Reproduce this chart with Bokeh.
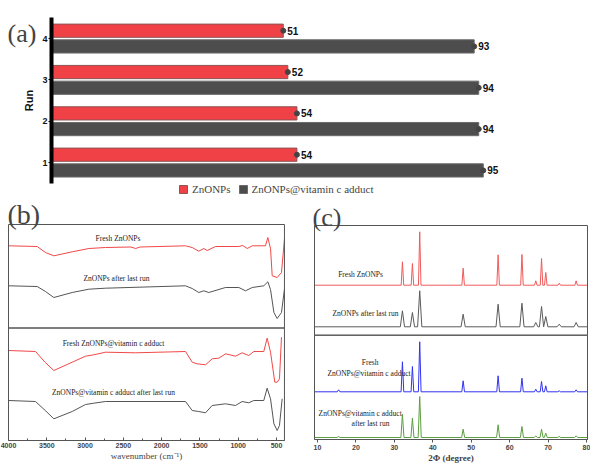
from bokeh.plotting import figure
from bokeh.models import (Range1d, Label, Legend, LegendItem, FixedTicker,
                          BoxAnnotation, ColumnDataSource)
from bokeh.layouts import column, row
from bokeh.transform import dodge
from bokeh.embed import file_html
from bokeh.resources import INLINE
from bokeh.core.properties import value

# ---------------- data: panel (a) ----------------
runs = [1, 2, 3, 4]
zno_yield = [54, 54, 52, 51]
znovc_yield = [95, 94, 94, 93]
legend_labels = ["ZnONPs", "ZnONPs@vitamin c adduct"]

# ---------------- data: panel (b) FTIR (arbitrary offset units) ----
ftir_fresh_zno_wn = [4000, 3625, 3517, 3408, 3168, 2951, 2733, 2400, 2341, 2280, 1688, 1601,
                     1515, 1449, 1405, 1297, 992, 940, 882, 817, 644, 613, 578, 556, 491, 435, 396]
ftir_fresh_zno_t = [194.7, 194, 188, 184.7, 188.7, 192, 193, 193.5, 192, 193.5, 194.7, 193,
                    189.3, 192, 190, 194, 194, 195, 192, 194.7, 194.7, 203, 192, 164.7, 163, 168, 201.3]

ftir_used_zno_wn = [4000, 3625, 3517, 3408, 3168, 2951, 2733, 1688, 1601, 1515, 1449, 1384,
                    1167, 992, 905, 817, 666, 613, 578, 534, 491, 435, 396]
ftir_used_zno_t = [154.7, 154, 149, 143, 148, 151.3, 152.3, 154.7, 152, 148, 149.7, 148,
                   153, 153, 149.7, 153, 154.7, 158.7, 151, 128, 122, 128, 151.3]

ftir_fresh_vc_wn = [4000, 3647, 3520, 3408, 3168, 2994, 2886, 2733, 2341, 1688, 1601, 1536,
                    1427, 1340, 1253, 1166, 1036, 949, 862, 797, 666, 622, 578, 522, 491, 461, 435]
ftir_fresh_vc_t = [90, 89, 78, 70, 78.3, 84.3, 85.7, 88.3, 87.7, 89, 78.3, 76.7,
                   75.7, 81.7, 82.3, 86.7, 84.3, 87.7, 85, 89, 89, 102.3, 88.3, 58.3, 58.3, 61.7, 103.3]

ftir_used_vc_wn = [4000, 3647, 3520, 3408, 3168, 2994, 2886, 2733, 1688, 1601, 1515, 1427,
                   1340, 1166, 1036, 949, 862, 797, 666, 622, 578, 534, 491, 461, 426]
ftir_used_vc_t = [40, 39, 30, 21.7, 29, 36, 37.3, 39, 39, 30, 29, 27.7,
                  35, 36.7, 35, 39, 37.7, 40, 40, 52.3, 41.7, 16.7, 10, 15, 41.7]

ftir_ticks = [4000, 3500, 3000, 2500, 2000, 1500, 1000, 500]
ftir_minor = [3750, 3250, 2750, 2250, 1750, 1250, 750]

# ---------------- data: panel (c) XRD (peak positions / apex heights) ----
xrd_pos = [32.1, 34.7, 36.6, 47.9, 57.0, 63.2, 66.8, 68.3, 69.4, 72.9, 77.3]
xrd_pos_vc = [15.5, 32.1, 34.7, 36.6, 47.9, 57.0, 63.2, 66.8, 68.3, 69.4, 72.9, 77.3]
xrd_fresh_zno_base = 155.3
xrd_fresh_zno_h = [178.7, 177, 208.7, 172.3, 185.7, 186, 159.7, 182, 168, 157.3, 159.7]
xrd_used_zno_base = 113.7
xrd_used_zno_h = [129.7, 128, 149.7, 126.3, 136.3, 137.3, 118, 134, 124, 116.3, 118]
xrd_fresh_vc_base = 48.7
xrd_fresh_vc_h = [50.7, 78.7, 74, 98.7, 59.7, 64.7, 62.3, 51.3, 59, 54.7, 49.7, 50.7]
xrd_used_vc_base = 3
xrd_used_vc_h = [4, 26.3, 22.3, 44, 11.3, 15.7, 14, 4.7, 11.3, 7.3, 4, 4.7]
xrd_ticks = [10, 20, 30, 40, 50, 60, 70, 80]

RED = "#EF4146"
DARK = "#4D4D4D"
FRAME = "#555555"
SERIF = "Liberation Serif"
SANS = "Liberation Sans"

# =============== panel (a) ===============
src = ColumnDataSource(dict(run=runs, zno=zno_yield, vc=znovc_yield,
                            zno_lbl=[str(v) for v in zno_yield],
                            vc_lbl=[str(v) for v in znovc_yield]))

pa = figure(width=590, height=196, min_border=0,
            x_range=Range1d(-11.22, 118.59), y_range=Range1d(0.179, 4.921),
            x_axis_location=None, output_backend="svg", toolbar_location=None)
pa.outline_line_color = None
pa.grid.visible = False

yr = dodge('run', 0.19)
yb = dodge('run', -0.19)
r_red = pa.hbar(y=yr, left=0, right='zno', height=0.32, source=src,
                fill_color=RED, line_color="#8c5555", line_width=1)
r_blk = pa.hbar(y=yb, left=0, right='vc', height=0.32, source=src,
                fill_color=DARK, line_color="#6a6a6a", line_width=1)
pa.scatter(x='zno', y=yr, size=5, color="#444444", source=src)
pa.scatter(x='vc', y=yb, size=5, color="#444444", source=src)
for xcol, col, yy in (('zno', 'zno_lbl', yr), ('vc', 'vc_lbl', yb)):
    pa.text(x=xcol, y=yy, text=col, source=src,
            x_offset=4, text_baseline='middle', text_align='left',
            text_font=value(SANS), text_font_style='bold', text_font_size='10px',
            text_color="#111111")

ya = pa.yaxis[0]
ya.fixed_location = 0
ya.bounds = (0.5, 4.5)
ya.ticker = FixedTicker(ticks=runs)
ya.axis_line_width = 4
ya.axis_line_color = "black"
ya.major_tick_out = 3
ya.major_tick_in = 0
ya.minor_tick_line_color = None
ya.major_label_standoff = 1
ya.major_label_text_font = SANS
ya.major_label_text_font_style = 'bold'
ya.major_label_text_font_size = '9px'
ya.major_label_text_color = "#111111"
ya.axis_label = "Run"
ya.axis_label_text_font = SANS
ya.axis_label_text_font_style = 'bold'
ya.axis_label_text_font_size = '11px'
ya.axis_label_text_color = "#111111"
ya.axis_label_standoff = 4

leg = Legend(items=[LegendItem(label=legend_labels[0], renderers=[r_red]),
                    LegendItem(label=legend_labels[1], renderers=[r_blk])],
             orientation="horizontal", location=(178, 1),
             glyph_width=10, glyph_height=10, label_height=10, label_width=10,
             label_standoff=4, spacing=7, padding=0, margin=0,
             border_line_color=None, background_fill_alpha=0,
             label_text_font=SERIF, label_text_font_size='11px')
pa.add_layout(leg, 'center')
pa.add_layout(Label(x=7, y=163, x_units='screen', y_units='screen', text="(a)",
                    text_font=SERIF, text_font_size='26px', text_baseline='alphabetic'))

# =============== panel (b) ===============
pb = figure(width=300, height=269, min_border=0,
            x_range=Range1d(4104.5, 186.5), y_range=Range1d(-25, 244),
            y_axis_location=None, output_backend="svg", toolbar_location=None)
pb.grid.visible = False
pb.outline_line_color = None
pb.line(ftir_fresh_zno_wn, ftir_fresh_zno_t, color="#F04848", line_width=1)
pb.line(ftir_used_zno_wn, ftir_used_zno_t, color="#555555", line_width=1)
pb.line(ftir_fresh_vc_wn, ftir_fresh_vc_t, color="#F04848", line_width=1)
pb.line(ftir_used_vc_wn, ftir_used_vc_t, color="#555555", line_width=1)
pb.add_layout(BoxAnnotation(left=4000, right=396, bottom=112.5, top=216, fill_alpha=0,
                            line_color=FRAME, line_width=1, line_alpha=1))
pb.add_layout(BoxAnnotation(left=4000, right=396, bottom=0, top=112.5, fill_alpha=0,
                            line_color=FRAME, line_width=1, line_alpha=1))

xb = pb.xaxis[0]
xb.fixed_location = 0
xb.bounds = (396, 4000)
xb.ticker = FixedTicker(ticks=ftir_ticks, minor_ticks=ftir_minor)
xb.major_tick_in = 3
xb.major_tick_out = 0
xb.minor_tick_in = 2
xb.minor_tick_out = 0
xb.axis_line_color = FRAME
xb.major_tick_line_color = FRAME
xb.minor_tick_line_color = FRAME
xb.major_label_standoff = 2
xb.major_label_text_font = SANS
xb.major_label_text_font_style = 'bold'
xb.major_label_text_font_size = '7px'
xb.major_label_text_color = "#444444"
xb.axis_label = "wavenumber (cm\u207b\u00b9)"
xb.axis_label_text_font = SERIF
xb.axis_label_text_font_style = 'normal'
xb.axis_label_text_font_size = '9px'
xb.axis_label_standoff = 0

for txt, x, y in (("Fresh ZnONPs", 2570, 202), ("ZnONPs after last run", 2590, 162),
                  ("Fresh ZnONPs@vitamin c adduct", 2629, 97),
                  ("ZnONPs@vitamin c adduct after last run", 2629, 48)):
    pb.add_layout(Label(x=x, y=y, text=txt, text_align='center', text_baseline='middle',
                        text_font=SERIF, text_font_size='7.5px', text_color="#222222"))
pb.add_layout(Label(x=7, y=251, x_units='screen', y_units='screen', text="(b)",
                    text_font=SERIF, text_font_size='28px', text_baseline='alphabetic'))

# =============== panel (c) ===============
XMIN, XMAX = 9.22, 80.26
pc = figure(width=290, height=269, min_border=0,
            x_range=Range1d(5.576, 81.04), y_range=Range1d(-25, 244),
            y_axis_location=None, output_backend="svg", toolbar_location=None)
pc.grid.visible = False
pc.outline_line_color = None


def peak_trace(base, pos, hts, hw):
    xs, ys = [XMIN], [base]
    for p, h in zip(pos, hts):
        xs += [p - hw, p, p + hw]
        ys += [base, h, base]
    xs.append(XMAX)
    ys.append(base)
    return xs, ys


for base, pos, hts, hw, colr in (
        (xrd_fresh_zno_base, xrd_pos, xrd_fresh_zno_h, 0.33, "#F05A5A"),
        (xrd_used_zno_base, xrd_pos, xrd_used_zno_h, 0.55, "#5A5A5A"),
        (xrd_fresh_vc_base, xrd_pos_vc, xrd_fresh_vc_h, 0.35, "#3232EE"),
        (xrd_used_vc_base, xrd_pos_vc, xrd_used_vc_h, 0.4, "#5C9E40")):
    xs, ys = peak_trace(base, pos, hts, hw)
    pc.line(xs, ys, color=colr, line_width=1)
pc.add_layout(BoxAnnotation(left=XMIN, right=XMAX, bottom=105.3, top=215, fill_alpha=0,
                            line_color=FRAME, line_width=1, line_alpha=1))
pc.add_layout(BoxAnnotation(left=XMIN, right=XMAX, bottom=1, top=105.3, fill_alpha=0,
                            line_color=FRAME, line_width=1, line_alpha=1))

xc = pc.xaxis[0]
xc.fixed_location = 1
xc.bounds = (XMIN, XMAX)
xc.ticker = FixedTicker(ticks=xrd_ticks)
xc.major_tick_in = 0
xc.major_tick_out = 3
xc.minor_tick_line_color = None
xc.axis_line_color = FRAME
xc.major_tick_line_color = FRAME
xc.major_label_standoff = 2
xc.major_label_text_font = SANS
xc.major_label_text_font_style = 'bold'
xc.major_label_text_font_size = '7px'
xc.major_label_text_color = "#444444"
xc.axis_label = "2\u03a6 (degree)"
xc.axis_label_text_font = SERIF
xc.axis_label_text_font_style = 'bold'
xc.axis_label_text_font_size = '9px'
xc.axis_label_standoff = 0

for txt, x, y in (("Fresh ZnONPs", 21.2, 166), ("ZnONPs after last run", 22.5, 127),
                  ("Fresh", 23.7, 78), ("ZnONPs@vitamin c adduct", 23.4, 67.3),
                  ("ZnONPs@vitamin c adduct", 21.1, 27.3), ("after last run", 23.8, 17)):
    pc.add_layout(Label(x=x, y=y, text=txt, text_align='center', text_baseline='middle',
                        text_font=SERIF, text_font_size='7.5px', text_color="#222222"))
pc.add_layout(Label(x=12, y=248, x_units='screen', y_units='screen', text="(c)",
                    text_font=SERIF, text_font_size='26px', text_baseline='alphabetic'))

layout = column(pa, row(pb, pc))
open("out.html", "w").write(file_html(layout, INLINE))
